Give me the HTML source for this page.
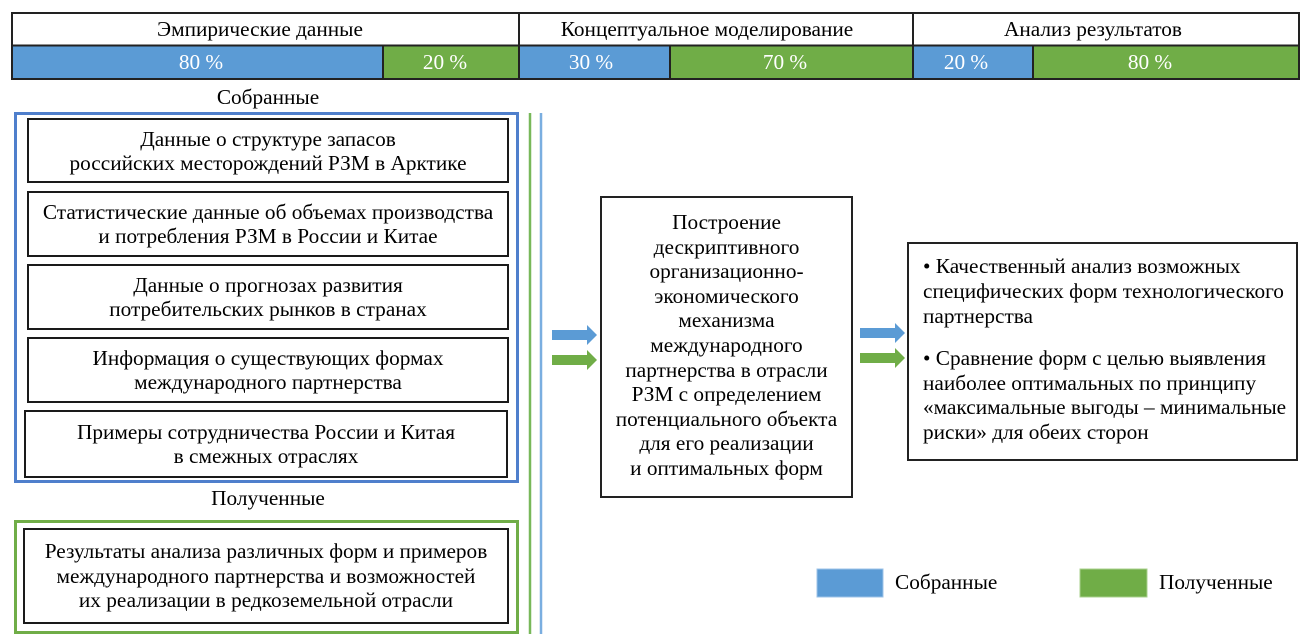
<!DOCTYPE html>
<html>
<head>
<meta charset="utf-8">
<style>
  html, body { margin:0; padding:0; background:#fff; }
  body { width:1310px; height:642px; position:relative; overflow:hidden;
         font-family:"Liberation Serif", "Noto Serif CJK SC", serif; font-size:21.3px; color:#000; }
  svg { position:absolute; left:0; top:0; }
  .t { position:absolute; white-space:nowrap; text-align:center; line-height:24px; }
  .w { color:#fff; }
  .box { position:absolute; display:flex; align-items:center; justify-content:center; text-align:center; line-height:24px; white-space:nowrap; }
</style>
</head>
<body>
<svg width="1310" height="642" viewBox="0 0 1310 642">
  <!-- top table -->
  <rect x="12" y="13" width="1287" height="33" fill="#fff"/>
  <rect x="12" y="46" width="371" height="33" fill="#5B9BD5"/>
  <rect x="383" y="46" width="136" height="33" fill="#70AD47"/>
  <rect x="519" y="46" width="151" height="33" fill="#5B9BD5"/>
  <rect x="670" y="46" width="243" height="33" fill="#70AD47"/>
  <rect x="913" y="46" width="120" height="33" fill="#5B9BD5"/>
  <rect x="1033" y="46" width="266" height="33" fill="#70AD47"/>
  <rect x="12" y="13" width="1287" height="66" fill="none" stroke="#222" stroke-width="2"/>
  <line x1="12" y1="45.5" x2="1299" y2="45.5" stroke="#222" stroke-width="2"/>
  <line x1="519" y1="13" x2="519" y2="79" stroke="#222" stroke-width="2"/>
  <line x1="913" y1="13" x2="913" y2="79" stroke="#222" stroke-width="2"/>
  <line x1="383" y1="45" x2="383" y2="79" stroke="#222" stroke-width="2"/>
  <line x1="670" y1="45" x2="670" y2="79" stroke="#222" stroke-width="2"/>
  <line x1="1033" y1="45" x2="1033" y2="79" stroke="#222" stroke-width="2"/>

  <!-- blue frame -->
  <rect x="15.5" y="113.5" width="502" height="368" fill="none" stroke="#4F7FCC" stroke-width="3"/>
  <rect x="28" y="119" width="480" height="63" fill="#fff" stroke="#1a1a1a" stroke-width="2"/>
  <rect x="28" y="192" width="480" height="64" fill="#fff" stroke="#1a1a1a" stroke-width="2"/>
  <rect x="28" y="265" width="480" height="64" fill="#fff" stroke="#1a1a1a" stroke-width="2"/>
  <rect x="28" y="338" width="480" height="64" fill="#fff" stroke="#1a1a1a" stroke-width="2"/>
  <rect x="25" y="411" width="482" height="66" fill="#fff" stroke="#1a1a1a" stroke-width="2"/>

  <!-- green frame -->
  <rect x="15.5" y="521.5" width="502" height="111" fill="none" stroke="#70AD47" stroke-width="3"/>
  <rect x="24" y="529" width="484" height="94" fill="#fff" stroke="#1a1a1a" stroke-width="2"/>

  <!-- vertical lines -->
  <line x1="530" y1="113" x2="530" y2="634" stroke="#78B85A" stroke-width="2.5"/>
  <line x1="541" y1="113" x2="541" y2="634" stroke="#7AAEE0" stroke-width="2.5"/>

  <!-- center box -->
  <rect x="601" y="197" width="251" height="300" fill="#fff" stroke="#222" stroke-width="2"/>
  <!-- right box -->
  <rect x="908" y="243" width="389" height="217" fill="#fff" stroke="#222" stroke-width="2"/>

  <!-- arrows left -->
  <polygon points="552,330 587,330 587,325 597,335 587,345 587,340 552,340" fill="#5B9BD5"/>
  <polygon points="552,355 587,355 587,350 597,360 587,370 587,365 552,365" fill="#70AD47"/>
  <!-- arrows right -->
  <polygon points="860,328 895,328 895,323 905,333 895,343 895,338 860,338" fill="#5B9BD5"/>
  <polygon points="860,353 895,353 895,348 905,358 895,368 895,363 860,363" fill="#70AD47"/>

  <!-- legend -->
  <rect x="817" y="569" width="66" height="28" fill="#5B9BD5" stroke="#9CC3E8" stroke-width="1"/>
  <rect x="1080" y="569" width="67" height="28" fill="#70AD47" stroke="#A9D08E" stroke-width="1"/>
</svg>

<!-- header texts -->
<div class="t" style="left:60px; top:17px; width:400px;">Эмпирические данные</div>
<div class="t" style="left:507px; top:17px; width:400px;">Концептуальное моделирование</div>
<div class="t" style="left:893px; top:17px; width:400px;">Анализ результатов</div>

<div class="t w" style="left:101px; top:50px; width:200px;">80 %</div>
<div class="t w" style="left:345px; top:50px; width:200px;">20 %</div>
<div class="t w" style="left:491px; top:50px; width:200px;">30 %</div>
<div class="t w" style="left:685px; top:50px; width:200px;">70 %</div>
<div class="t w" style="left:866px; top:50px; width:200px;">20 %</div>
<div class="t w" style="left:1050px; top:50px; width:200px;">80 %</div>

<div class="t" style="left:168px; top:85px; width:200px;">Собранные</div>
<div class="t" style="left:168px; top:486px; width:200px;">Полученные</div>

<!-- left boxes text -->
<div class="box" style="left:28px; top:119px; width:480px; height:63px;">Данные о структуре запасов<br>российских месторождений РЗМ в Арктике</div>
<div class="box" style="left:28px; top:192px; width:480px; height:64px;">Статистические данные об объемах производства<br>и потребления РЗМ в России и Китае</div>
<div class="box" style="left:28px; top:265px; width:480px; height:64px;">Данные о прогнозах развития<br>потребительских рынков в странах</div>
<div class="box" style="left:28px; top:338px; width:480px; height:64px;">Информация о существующих формах<br>международного партнерства</div>
<div class="box" style="left:25px; top:411px; width:482px; height:66px;">Примеры сотрудничества России и Китая<br>в смежных отраслях</div>

<div class="box" style="left:24px; top:529px; width:484px; height:94px; line-height:24.5px;">Результаты анализа различных форм и примеров<br>международного партнерства и возможностей<br>их реализации в редкоземельной отрасли</div>

<!-- center text -->
<div class="t" style="left:601px; top:210px; width:251px; line-height:24.6px;">Построение<br>дескриптивного<br>организационно-<br>экономического<br>механизма<br>международного<br>партнерства в отрасли<br>РЗМ с определением<br>потенциального объекта<br>для его реализации<br>и оптимальных форм</div>

<!-- right text -->
<div class="t" style="left:923px; top:254px; text-align:left; line-height:24.8px;">• Качественный анализ возможных<br>специфических форм технологического<br>партнерства</div>
<div class="t" style="left:923px; top:346px; text-align:left; line-height:24.6px;">• Сравнение форм с целью выявления<br>наиболее оптимальных по принципу<br>«максимальные выгоды – минимальные<br>риски» для обеих сторон</div>

<!-- legend text -->
<div class="t" style="left:895px; top:570px; text-align:left;">Собранные</div>
<div class="t" style="left:1159px; top:570px; text-align:left;">Полученные</div>
</body>
</html>
